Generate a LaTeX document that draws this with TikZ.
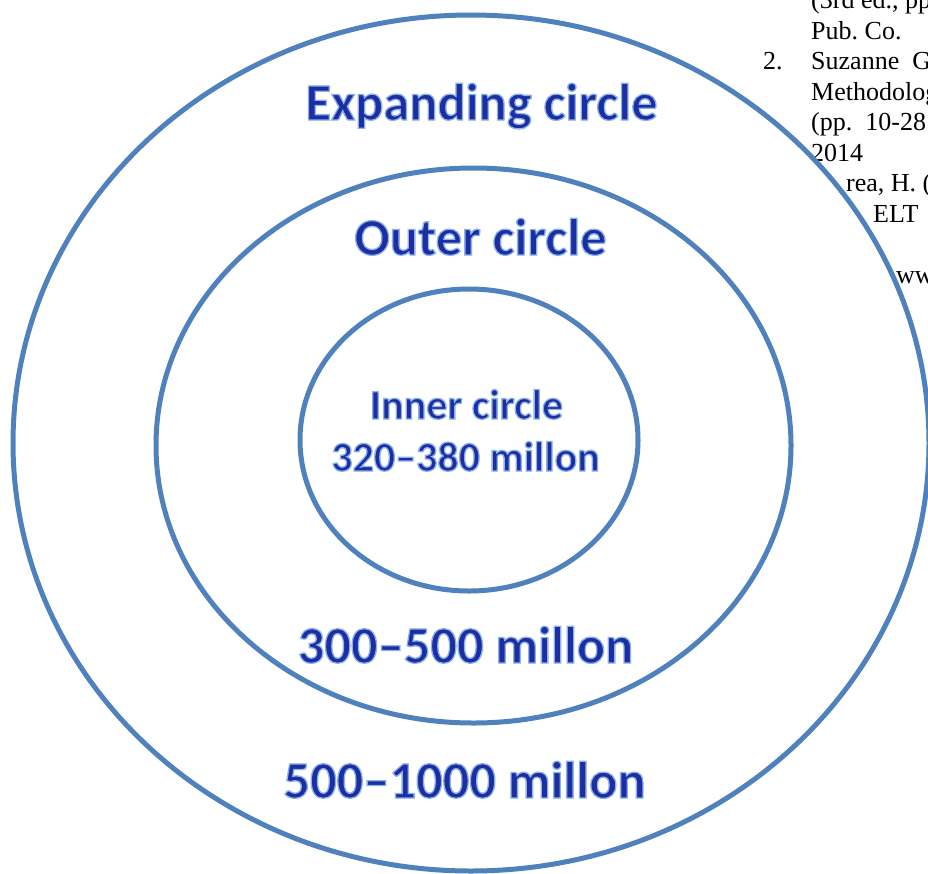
\documentclass[tikz,border=0pt]{standalone}
\usepackage{fontspec}
\setmainfont{Liberation Serif}
\newfontfamily\artfont{Carlito}
\definecolor{ringblue}{HTML}{4F81BD}
\definecolor{artblue}{RGB}{28,46,162}
\newcommand{\wordart}[1]{\special{pdf:code 2 Tr 1.3 w 0.55 0.70 0.92 RG}#1\special{pdf:code 0 Tr}}
\begin{document}
\begin{tikzpicture}[x=1pt,y=-1pt,
  ring/.style={draw=ringblue,line width=5pt},
  bigart/.style={font=\artfont\bfseries\fontsize{52.5}{60}\selectfont,text=artblue,anchor=base,inner sep=0pt},
  smallart/.style={font=\artfont\bfseries\fontsize{42}{48}\selectfont,text=artblue,anchor=base,inner sep=0pt},
  bg/.style={font=\fontsize{26}{30}\selectfont,text=black,anchor=base west,inner sep=0pt}]
\useasboundingbox (0,0) rectangle (928,873);
\clip (0,0) rectangle (928,873);
% background document text
\node[bg] (t1) at (811,8.5) {(3rd ed., pp};
\node[bg] (t2) at (811,39) {Pub.\ Co.};
\node[bg] (t3n) at (763,69.5) {2.};
\node[bg] (t3) at (811,69.5) {Suzanne\ \ G};
\node[bg] (t4) at (811,100) {Methodolog};
\node[bg] (t5) at (811,130.5) {(pp.\ \ 10-28};
\node[bg] (t6) at (811,161) {2014};
\node[bg] (t7) at (846,191.5) {rea, H. (};
\node[bg] (t8) at (873,222) {ELT};
\node[bg] (t9) at (896,283) {ww};
% rings
\fill[white] (471,443) ellipse [x radius=458pt, y radius=428pt];
\draw[ring] (471,443) ellipse [x radius=458pt, y radius=428pt];
\draw[ring] (473.5,445.5) ellipse [x radius=317.5pt, y radius=277.5pt];
\draw[ring] (469,440) ellipse [x radius=169pt, y radius=151pt];
% labels
\node[bigart] (expanding) at (481.5,120) {\wordart{Expanding circle}};
\node[bigart] (outer) at (480.5,255) {\wordart{Outer circle}};
\node[smallart] (inner) at (466.5,419) {\wordart{Inner circle}};
\node[smallart] (innernum) at (465.5,471) {\wordart{320–380 millon}};
\node[bigart] (outernum) at (465.5,663) {\wordart{300–500 millon}};
\node[bigart] (expnum) at (464.5,798) {\wordart{500–1000 millon}};
\end{tikzpicture}
\end{document}
